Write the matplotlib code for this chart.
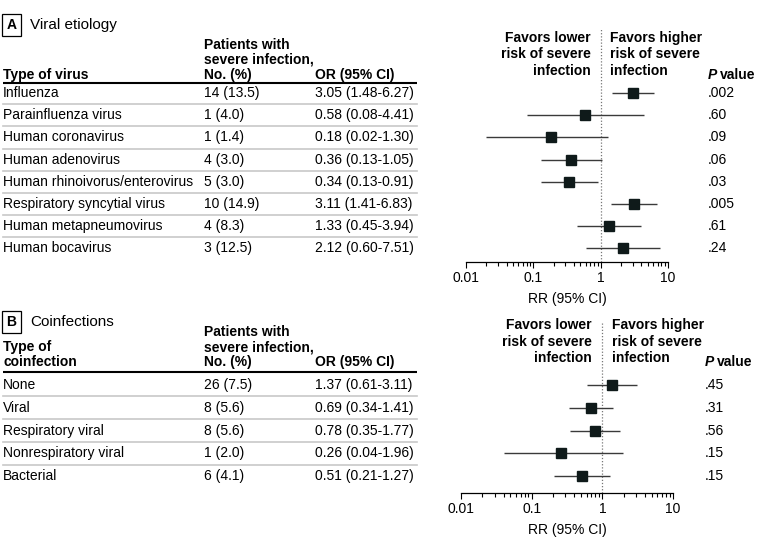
import matplotlib
matplotlib.use("Agg")
import matplotlib.pyplot as plt
from matplotlib.ticker import FixedLocator, LogLocator, NullFormatter

plt.rcParams["font.family"] = ["Liberation Sans Narrow", "Liberation Sans", "DejaVu Sans"]
plt.rcParams["font.size"] = 10

# panel A data
viruses = ["Influenza", "Parainfluenza virus", "Human coronavirus", "Human adenovirus",
           "Human rhinoivorus/enterovirus", "Respiratory syncytial virus",
           "Human metapneumovirus", "Human bocavirus"]
virus_n = [14, 1, 1, 4, 5, 10, 4, 3]
virus_pct = [13.5, 4.0, 1.4, 3.0, 3.0, 14.9, 8.3, 12.5]
virus_or = [3.05, 0.58, 0.18, 0.36, 0.34, 3.11, 1.33, 2.12]
virus_lo = [1.48, 0.08, 0.02, 0.13, 0.13, 1.41, 0.45, 0.60]
virus_hi = [6.27, 4.41, 1.30, 1.05, 0.91, 6.83, 3.94, 7.51]
virus_p = [".002", ".60", ".09", ".06", ".03", ".005", ".61", ".24"]

# panel B data
coinf = ["None", "Viral", "Respiratory viral", "Nonrespiratory viral", "Bacterial"]
coinf_n = [26, 8, 8, 1, 6]
coinf_pct = [7.5, 5.6, 5.6, 2.0, 4.1]
coinf_or = [1.37, 0.69, 0.78, 0.26, 0.51]
coinf_lo = [0.61, 0.34, 0.35, 0.04, 0.21]
coinf_hi = [3.11, 1.41, 1.77, 1.96, 1.27]
coinf_p = [".45", ".31", ".56", ".15", ".15"]

xticks = [0.01, 0.1, 1, 10]
xticklabels = ["0.01", "0.1", "1", "10"]

W, H = 780, 553
fig = plt.figure(figsize=(W / 100, H / 100), dpi=100)
ax0 = fig.add_axes([0, 0, 1, 1])
ax0.set_xlim(0, W)
ax0.set_ylim(H, 0)
ax0.axis("off")

sq_color = "#0f1a1a"
ci_color = "#3a3a3a"


def panel(letter, title, y_title, head_lines, head_first, y_rule, row0, step,
          names, ns, pcts, ors, los, his, ps, fav_x, pval_x, ax_box):
    # panel letter and title
    ax0.text(11.5, y_title, letter, ha="center", va="center", fontweight="bold", fontsize=10,
             bbox=dict(boxstyle="square,pad=0.3", fc="white", ec="black", lw=0.9))
    ax0.text(30, y_title, title, ha="left", va="center", fontsize=11)
    # column headers
    for k, line in enumerate(["Patients with", "severe infection,", "No. (%)"]):
        ax0.text(204, head_first + k * 15, line, va="center", fontweight="bold")
    for k, line in enumerate(head_lines):
        ax0.text(3, head_first + 30 - 15 * (len(head_lines) - 1 - k), line, va="center",
                 fontweight="bold")
    ax0.text(315, head_first + 30, "OR (95% CI)", va="center", fontweight="bold")
    fav_lo = ["Favors lower", "risk of severe", "infection"]
    fav_hi = ["Favors higher", "risk of severe", "infection"]
    for k in range(3):
        ax0.text(fav_x[0], head_first - 7 + k * 16.5, fav_lo[k], ha="right", va="center",
                 fontweight="bold")
        ax0.text(fav_x[1], head_first - 7 + k * 16.5, fav_hi[k], ha="left", va="center",
                 fontweight="bold")
    ax0.text(pval_x, head_first + 30, "P", va="center", fontweight="bold", fontstyle="italic")
    ax0.text(pval_x + 12, head_first + 30, "value", va="center", fontweight="bold")
    # rules
    ax0.plot([3, 417], [y_rule, y_rule], color="black", lw=1.5, solid_capstyle="butt")
    for i in range(len(names)):
        y = row0 + i * step
        ax0.text(3, y, names[i], va="center")
        ax0.text(204, y, f"{ns[i]} ({pcts[i]:.1f})", va="center")
        ax0.text(315, y, f"{ors[i]:.2f} ({los[i]:.2f}-{his[i]:.2f})", va="center")
        ax0.text(pval_x, y, ps[i], va="center")
        if i < len(names) - 1:
            ax0.plot([3, 417], [y + step / 2, y + step / 2], color="#c8c8c8", lw=1.2)

    # forest plot
    left, right, top, bottom = ax_box
    ax = fig.add_axes([left / W, 1 - bottom / H, (right - left) / W, (bottom - top) / H])
    ax.set_xscale("log")
    ax.set_xlim(0.01, 10)
    ax.set_ylim((bottom - row0) / step, (top - row0) / step)
    ax.axvline(1, color="#777777", lw=0.9, ls=(0, (1, 1.5)))
    idx = list(range(len(names)))
    ax.hlines(idx, los, his, color=ci_color, lw=1)
    ax.plot(ors, idx, "s", color=sq_color, ms=6.8, mec=sq_color)
    for s in ["top", "left", "right"]:
        ax.spines[s].set_visible(False)
    ax.spines["bottom"].set_linewidth(0.9)
    ax.set_yticks([])
    ax.xaxis.set_major_locator(FixedLocator(xticks))
    ax.set_xticklabels(xticklabels)
    ax.xaxis.set_minor_locator(LogLocator(base=10, subs=range(2, 10)))
    ax.xaxis.set_minor_formatter(NullFormatter())
    ax.tick_params(axis="x", which="major", length=4.3, width=0.8, labelsize=10, pad=2)
    ax.tick_params(axis="x", which="minor", length=2.9, width=0.8)
    ax.set_xlabel("RR (95% CI)", fontsize=10, labelpad=5)
    ax.patch.set_alpha(0)
    return ax


panel("A", "Viral etiology", 25, ["Type of virus"], 45, 83, 93, 22.2,
      viruses, virus_n, virus_pct, virus_or, virus_lo, virus_hi, virus_p,
      (591, 610), 708, (466, 668, 29, 262))

panel("B", "Coinfections", 322, ["Type of", "coinfection"], 332, 372, 385, 22.8,
      coinf, coinf_n, coinf_pct, coinf_or, coinf_lo, coinf_hi, coinf_p,
      (592, 612), 705, (461, 673, 323, 493))

fig.savefig("out.png", dpi=100)
